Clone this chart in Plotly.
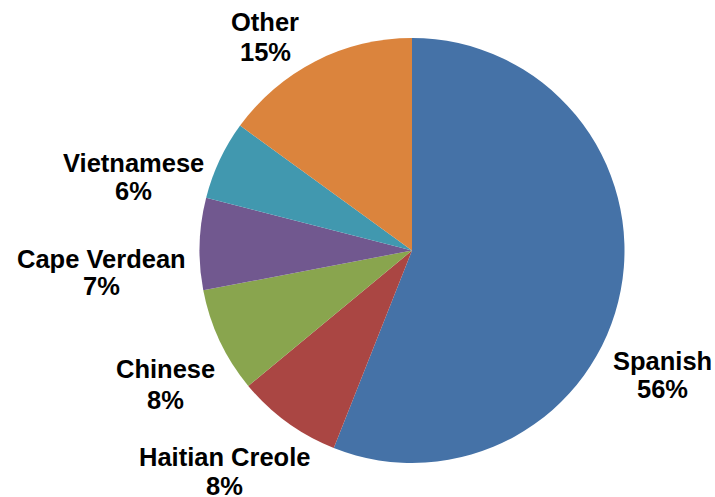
import plotly.graph_objects as go

languages = ["Spanish", "Haitian Creole", "Chinese", "Cape Verdean", "Vietnamese", "Other"]
shares = [56, 8, 8, 7, 6, 15]
colors = ["#4572A7", "#AA4643", "#89A54E", "#71588F", "#4198AF", "#DB843D"]

# label positions (pixel centers of name line and percent line)
label_x = [662, 224, 165, 102, 133, 265]
name_y = [361, 457, 369, 259, 163, 22]
pct_y = [389, 486, 400, 286, 191, 52]

W, H = 715, 497
cx, cy, r = 412, 250.5, 212.5

fig = go.Figure(go.Pie(
    labels=languages,
    values=shares,
    sort=False,
    direction="clockwise",
    rotation=0,
    marker=dict(colors=colors, line=dict(width=0)),
    textinfo="none",
    hoverinfo="skip",
    showlegend=False,
    domain=dict(x=[(cx - r) / W, (cx + r) / W], y=[1 - (cy + r) / H, 1 - (cy - r) / H]),
))

font = dict(family="Liberation Sans, Arial, sans-serif", size=25.5, color="black", weight="bold")
annotations = []
for lab, val, x, yn, yp in zip(languages, shares, label_x, name_y, pct_y):
    annotations.append(dict(text=lab, x=x / W, y=1 - yn / H, xref="paper", yref="paper",
                            xanchor="center", yanchor="middle", showarrow=False, font=font))
    annotations.append(dict(text=f"{val}%", x=x / W, y=1 - yp / H, xref="paper", yref="paper",
                            xanchor="center", yanchor="middle", showarrow=False, font=font))

fig.update_layout(
    width=W, height=H,
    margin=dict(l=0, r=0, t=0, b=0),
    paper_bgcolor="white", plot_bgcolor="white",
    annotations=annotations,
)

fig.write_html("out.html", config={"displayModeBar": False},
               post_script="document.body.style.margin='0';document.body.style.overflow='hidden';")
